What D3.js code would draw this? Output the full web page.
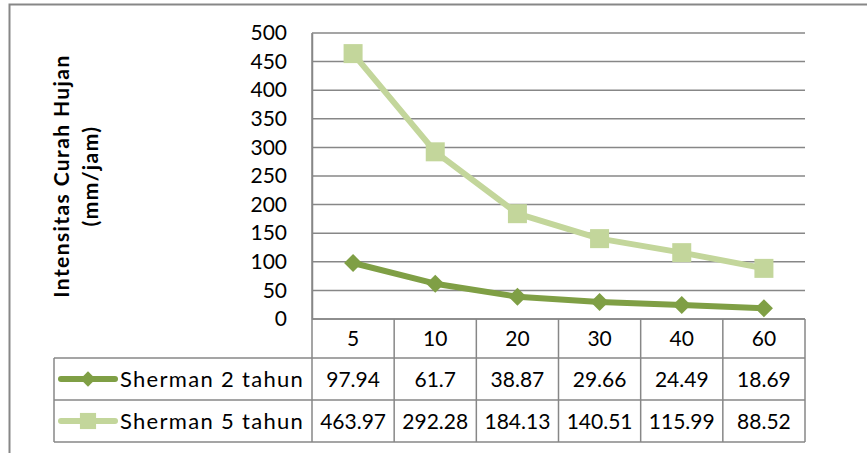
<!DOCTYPE html>
<html>
<head>
<meta charset="utf-8">
<script src="https://cdn.jsdelivr.net/npm/d3@7"></script>
<style>
  html, body { margin: 0; padding: 0; background: #fff; }
  svg { display: block; font-family: Lato, "Open Sans", sans-serif; }
</style>
</head>
<body>
<div id="chart"></div>
<script>
// data
const categories = ['5', '10', '20', '30', '40', '60'];
const seriesNames = ['Sherman 2 tahun', 'Sherman 5 tahun'];
const sherman2 = [97.94, 61.7, 38.87, 29.66, 24.49, 18.69];
const sherman5 = [463.97, 292.28, 184.13, 140.51, 115.99, 88.52];
const yTicks = [0, 50, 100, 150, 200, 250, 300, 350, 400, 450, 500];

const W = 867, H = 453;
const plot = { left: 312, right: 805, top: 33, bottom: 319 };
const rowH = [39, 42, 42];   // header row, series rows
const legendLeft = 54;
const gridColor = '#878787';
const colors = ['#7F9F45', '#C3D69B'];
const fontSize = 21;

const series = [
    { name: seriesNames[0], values: sherman2, color: colors[0], marker: 'diamond' },
    { name: seriesNames[1], values: sherman5, color: colors[1], marker: 'square' }
];

const svg = d3.select('#chart').append('svg')
    .attr('width', W).attr('height', H);

// outer chart frame (runs off the right/bottom edge like the reference)
svg.append('rect')
    .attr('x', 9.5).attr('y', 4.5)
    .attr('width', W + 20).attr('height', H + 20)
    .attr('fill', 'none').attr('stroke', gridColor).attr('stroke-width', 2);

const x = d3.scaleBand().domain(categories).range([plot.left, plot.right]);
const y = d3.scaleLinear().domain([0, 500]).range([plot.bottom, plot.top]);

// gridlines
svg.append('g').selectAll('line')
    .data(yTicks)
    .enter().append('line')
    .attr('x1', plot.left).attr('x2', plot.right)
    .attr('y1', d => y(d)).attr('y2', d => y(d))
    .attr('stroke', gridColor).attr('stroke-width', 1.5);

// y axis
const yAxis = svg.append('g')
    .attr('transform', `translate(${plot.left},0)`)
    .call(d3.axisLeft(y).tickValues(yTicks).tickSize(0).tickPadding(25));
yAxis.select('.domain').attr('stroke', gridColor).attr('stroke-width', 1.5);
yAxis.selectAll('text')
    .attr('font-family', 'Lato, "Open Sans", sans-serif')
    .attr('font-size', fontSize).attr('fill', '#000');

// axis title (two lines, rotated)
const title = svg.append('text')
    .attr('transform', 'translate(76,176) rotate(-90)')
    .attr('text-anchor', 'middle')
    .attr('font-size', 21).attr('font-weight', 'bold')
    .attr('letter-spacing', 1.4);
title.append('tspan').attr('x', 0).attr('dy', '-0.35em').text('Intensitas Curah Hujan');
title.append('tspan').attr('x', 0).attr('dy', '1.42em').text('(mm/jam)');

// data table
const tableTop = plot.bottom;
const rowY = [tableTop, tableTop + rowH[0], tableTop + rowH[0] + rowH[1], tableTop + rowH[0] + rowH[1] + rowH[2]];
const table = svg.append('g').attr('stroke', gridColor).attr('stroke-width', 1.5);

table.append('line')
    .attr('x1', plot.left).attr('x2', plot.right)
    .attr('y1', rowY[0]).attr('y2', rowY[0]);
rowY.slice(1).forEach(ry => {
    table.append('line')
        .attr('x1', legendLeft).attr('x2', plot.right)
        .attr('y1', ry).attr('y2', ry);
});
const colEdges = categories.map(c => x(c)).concat([plot.right]);
colEdges.forEach((cx, i) => {
    table.append('line')
        .attr('x1', cx).attr('x2', cx)
        .attr('y1', i === 0 ? plot.top : rowY[0]).attr('y2', rowY[3]);
});
table.append('line')
    .attr('x1', legendLeft).attr('x2', legendLeft)
    .attr('y1', rowY[1]).attr('y2', rowY[3]);

// header row labels
svg.append('g').selectAll('text')
    .data(categories)
    .enter().append('text')
    .attr('x', d => x(d) + x.bandwidth() / 2)
    .attr('y', (rowY[0] + rowY[1]) / 2)
    .attr('dy', '0.36em')
    .attr('text-anchor', 'middle')
    .attr('font-size', fontSize)
    .text(d => d);

// value rows
series.forEach((s, si) => {
    const cy = (rowY[si + 1] + rowY[si + 2]) / 2;
    svg.append('g').selectAll('text')
        .data(s.values)
        .enter().append('text')
        .attr('x', (d, i) => x(categories[i]) + x.bandwidth() / 2)
        .attr('y', cy)
        .attr('dy', '0.36em')
        .attr('text-anchor', 'middle')
        .attr('font-size', fontSize)
        .text(d => d);

    // legend key
    const key = svg.append('g');
    key.append('line')
        .attr('x1', 61).attr('x2', 115)
        .attr('y1', cy).attr('y2', cy)
        .attr('stroke', s.color).attr('stroke-width', 6).attr('stroke-linecap', 'round');
    drawMarker(key, s, 88, cy, 0.85);
    key.append('text')
        .attr('x', 120).attr('y', cy).attr('dy', '0.36em')
        .attr('font-size', 22)
        .attr('letter-spacing', 1.3)
        .text(s.name);
});

function drawMarker(g, s, cx, cy, k) {
    if (s.marker === 'diamond') {
        const r = 9 * k;
        g.append('path')
            .attr('d', `M${cx},${cy - r}L${cx + r},${cy}L${cx},${cy + r}L${cx - r},${cy}Z`)
            .attr('fill', s.color);
    } else {
        const a = 19 * k;
        g.append('rect')
            .attr('x', cx - a / 2).attr('y', cy - a / 2)
            .attr('width', a).attr('height', a)
            .attr('fill', s.color);
    }
}

// series lines and markers (light series drawn first)
const line = d3.line()
    .x((d, i) => x(categories[i]) + x.bandwidth() / 2)
    .y(d => y(d));

series.slice().reverse().forEach(s => {
    svg.append('path')
        .datum(s.values)
        .attr('d', line)
        .attr('fill', 'none')
        .attr('stroke', s.color)
        .attr('stroke-width', 6)
        .attr('stroke-linejoin', 'round');
    const mg = svg.append('g');
    s.values.forEach((v, i) => {
        drawMarker(mg, s, x(categories[i]) + x.bandwidth() / 2, y(v), 1);
    });
});
</script>
</body>
</html>
